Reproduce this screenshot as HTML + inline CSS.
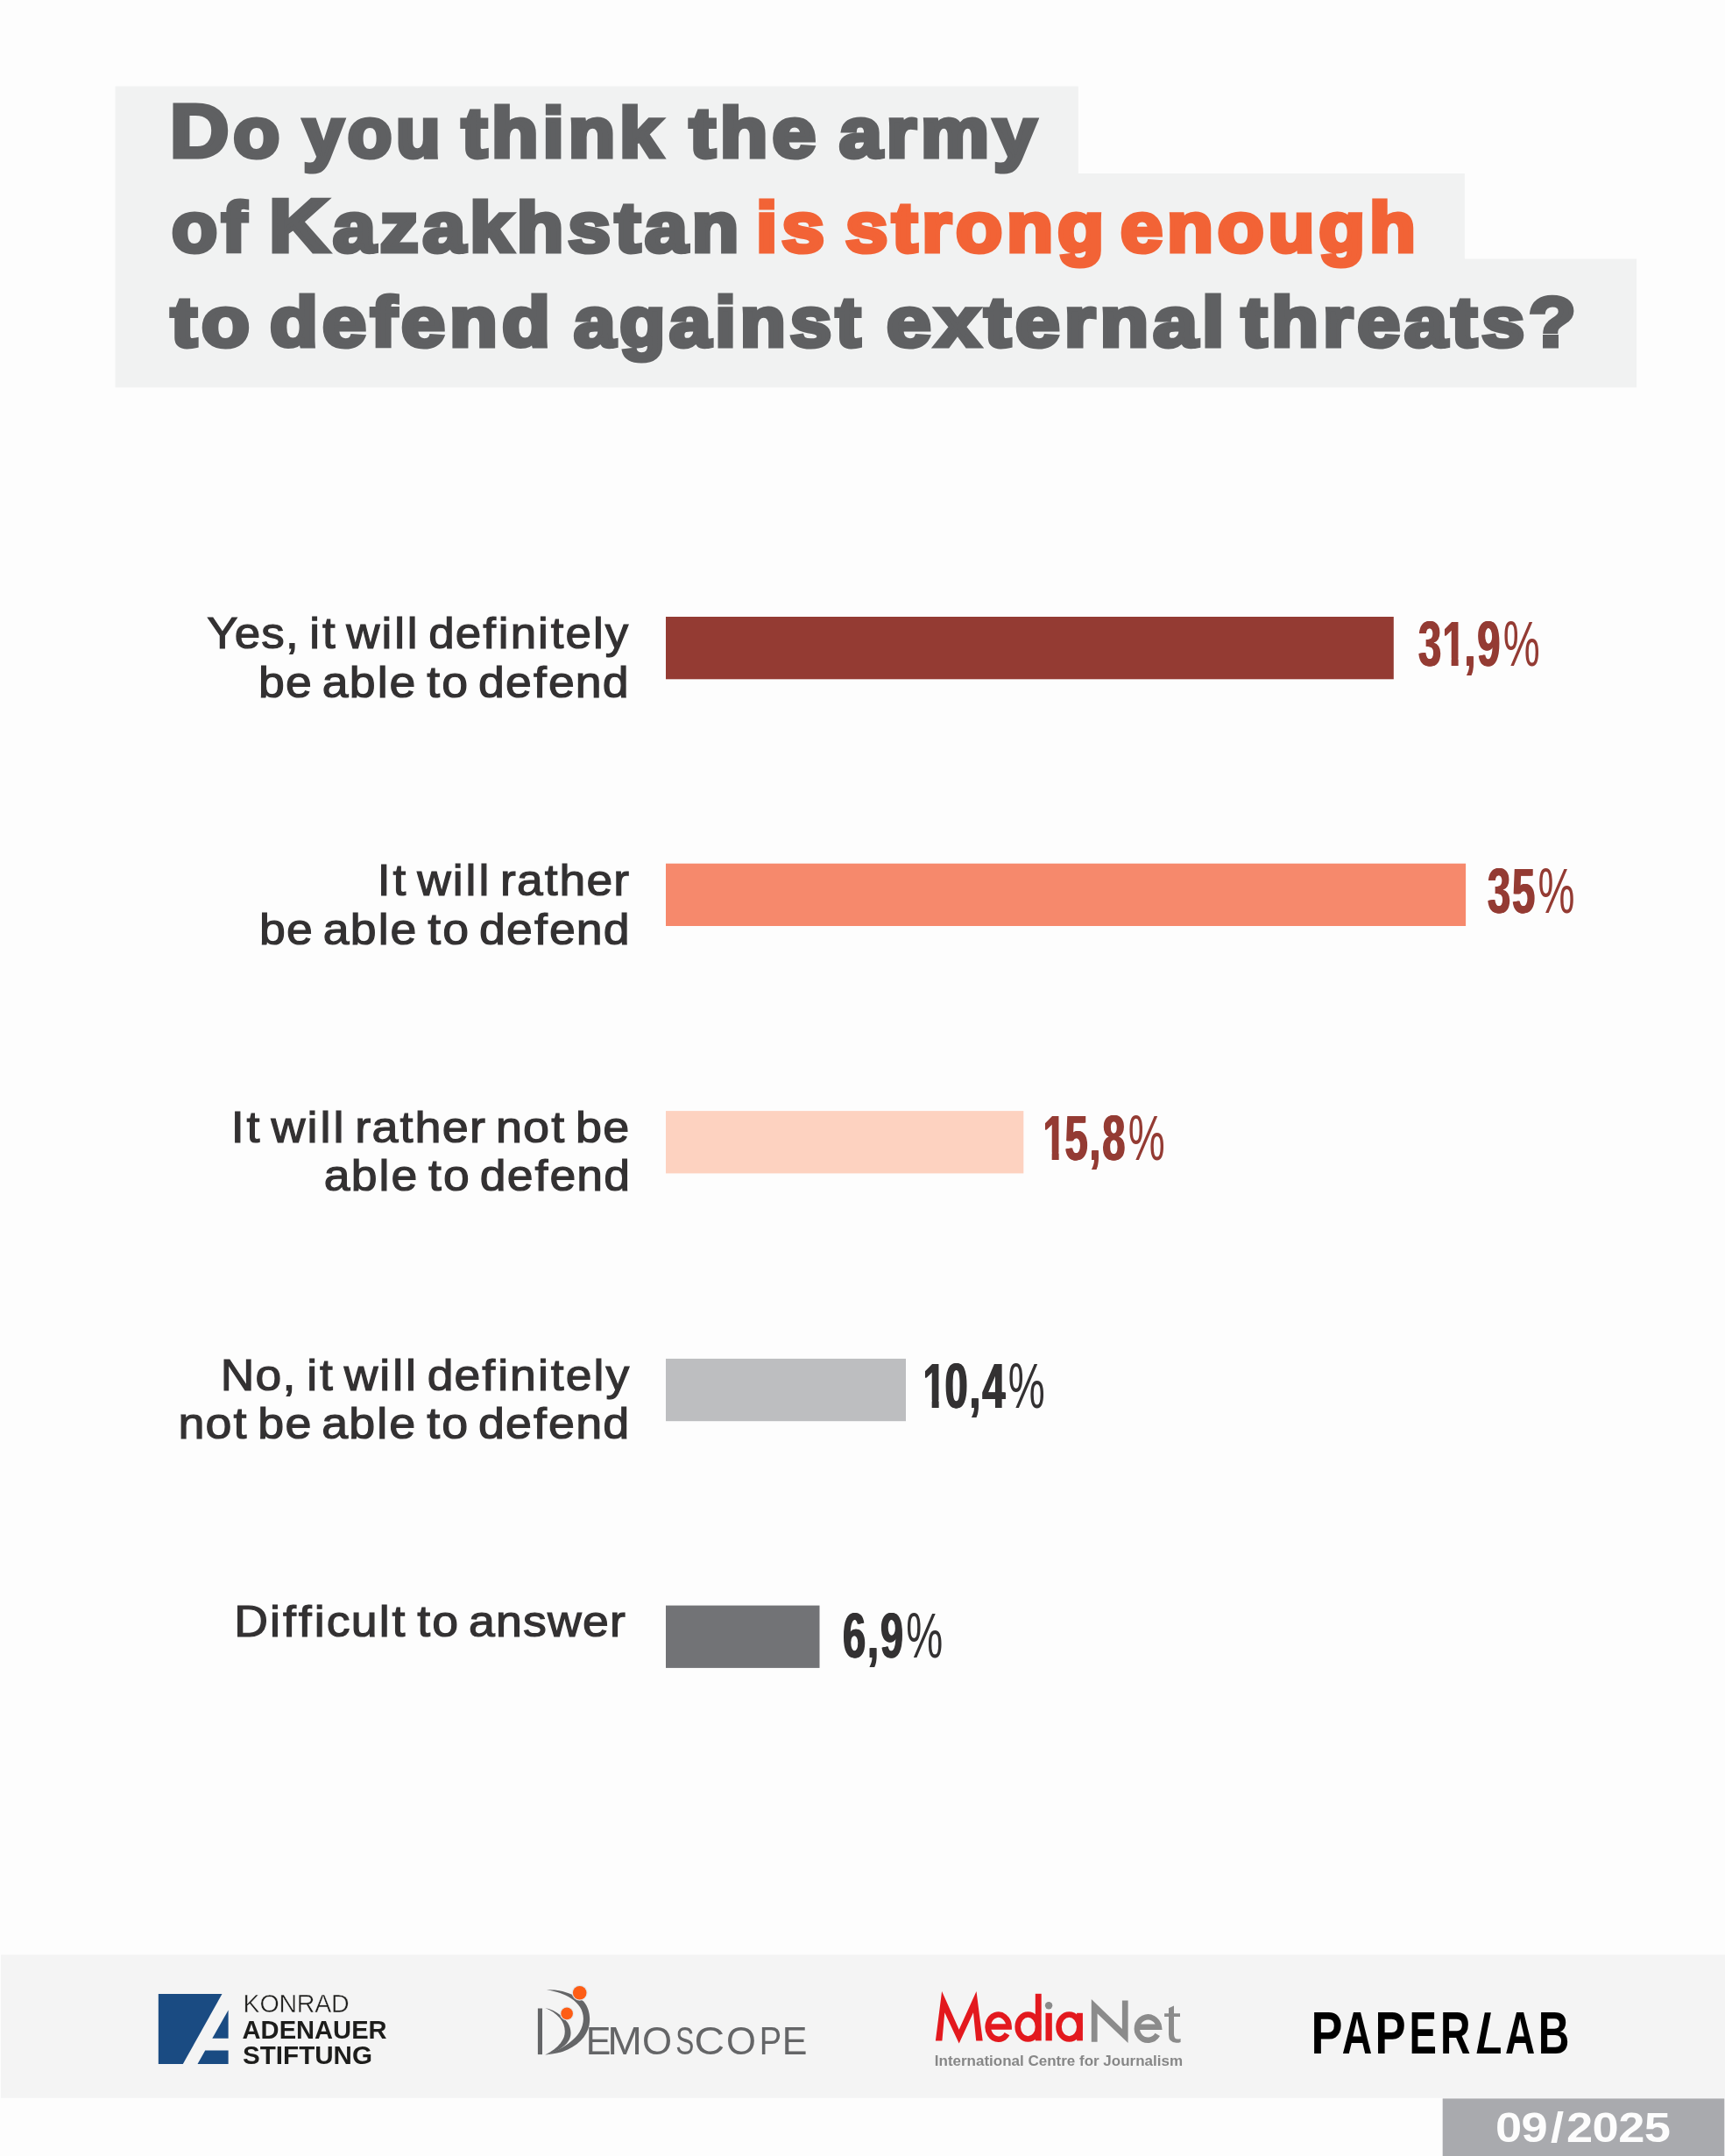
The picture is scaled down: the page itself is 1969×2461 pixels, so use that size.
<!DOCTYPE html>
<html lang="en">
<head>
<meta charset="utf-8">
<title>Survey chart</title>
<style>
html,body{margin:0;padding:0;}
body{width:1969px;height:2461px;background:#fdfdfd;position:relative;overflow:hidden;font-family:"Liberation Sans",sans-serif;}
.abs{position:absolute;}
.t{position:absolute;white-space:nowrap;font-weight:bold;font-size:79.5px;line-height:100px;color:#5f6062;
   -webkit-text-stroke:5px #5f6062;transform-origin:0 0;transform:scaleX(1.03);letter-spacing:4.5px;word-spacing:-10px;}
.t .c{font-size:85.6px;line-height:0;}
.t.o{color:#f26336;-webkit-text-stroke:5px #f26336;}
.lab{position:absolute;right:1251px;white-space:nowrap;text-align:right;font-size:50.6px;line-height:56px;color:#333132;
   -webkit-text-stroke:1.2px #333132;letter-spacing:1.1px;word-spacing:-5px;transform-origin:100% 0;transform:scaleX(1.05);}
.lab s{text-decoration:none;margin:0 0.85px;}
.val{position:absolute;white-space:nowrap;font-weight:bold;font-size:72.4px;line-height:80px;color:#943b33;
   letter-spacing:2.8px;text-shadow:1.1px 0 0 currentColor,-1.1px 0 0 currentColor;transform-origin:0 0;transform:scaleX(0.65);}
.val i{font-style:normal;font-weight:normal;text-shadow:none;letter-spacing:0;margin-left:2.2px;font-size:72.6px;}
.val.dk{color:#333132;}
.val u{text-decoration:none;display:inline-block;margin:0 -4.5px 0 -1px;line-height:80px;clip-path:polygon(-3px 0,60px 0,60px 56.3px,27.6px 56.3px,27.6px 80px,16.2px 80px,16.2px 56.3px,-3px 56.3px);}
.datet{position:absolute;left:1707px;top:2400.6px;white-space:nowrap;font-weight:bold;font-size:47.8px;line-height:56px;color:#fdfdfd;letter-spacing:-0.5px;transform-origin:0 0;transform:scaleX(1.135);}
.datet b{margin:0 3px 0 3.4px;}
</style>
</head>
<body>
<!-- background shapes: title box, bars, footer band, date box -->
<svg class="abs" style="left:0;top:0;" width="1969" height="2461" viewBox="0 0 1969 2461">
<path fill="#f1f2f2" d="M131.6,98.6 H1230.8 V198 H1671.9 V295.5 H1868.1 V442.3 H131.6 Z"/>
<rect x="760" y="704" width="830.8" height="71.3" fill="#943b33"/>
<rect x="760" y="985.7" width="913.1" height="71.3" fill="#f6896c"/>
<rect x="760" y="1268.1" width="408.3" height="71.3" fill="#fdd2c0"/>
<rect x="760" y="1550.9" width="274" height="71.3" fill="#bdbec0"/>
<rect x="760" y="1832.6" width="175.5" height="71.3" fill="#727376"/>
<rect x="1" y="2231.2" width="1968" height="163.6" fill="#f4f4f4"/>
<rect x="1646.7" y="2395.4" width="321.6" height="65.6" fill="#a9aaae"/>
</svg>
<!-- title text -->
<!--TITLE-->
<div class="t" style="left:194.0px;top:102px;transform:scaleX(1.0899);"><span class="c">D</span>o </div>
<div class="t" style="left:345.5px;top:102px;transform:scaleX(1.0422);">you </div>
<div class="t" style="left:526.5px;top:102px;transform:scaleX(1.1003);">think </div>
<div class="t" style="left:787.0px;top:102px;transform:scaleX(1.1234);">the </div>
<div class="t" style="left:958.0px;top:102px;transform:scaleX(1.1038);">army </div>
<div class="t" style="left:195.5px;top:209.9px;transform:scaleX(1.0719);">of </div>
<div class="t" style="left:306.5px;top:209.9px;transform:scaleX(1.1016);"><span class="c">K</span>azakhstan </div>
<div class="t o" style="left:863.0px;top:209.9px;transform:scaleX(1.1030);">is </div>
<div class="t o" style="left:964.5px;top:209.9px;transform:scaleX(1.0934);">strong </div>
<div class="t o" style="left:1279.0px;top:209.9px;transform:scaleX(1.0886);">enough </div>
<div class="t" style="left:195.0px;top:317.7px;transform:scaleX(1.1300);">to </div>
<div class="t" style="left:307.5px;top:317.7px;transform:scaleX(1.1303);">defend </div>
<div class="t" style="left:655.0px;top:317.7px;transform:scaleX(1.0720);">against </div>
<div class="t" style="left:1011.5px;top:317.7px;transform:scaleX(1.1451);">external </div>
<div class="t" style="left:1417.0px;top:317.7px;transform:scaleX(1.1059);">threats? </div>
<!--/TITLE-->

<!-- rows -->
<div class="lab" style="top:694.9px;right:1251.2px;transform:scaleX(1.045);">Yes, <s>i</s><s>t</s> w<s>i</s><s>l</s><s>l</s> de<s>f</s><s>i</s>n<s>i</s><s>t</s>e<s>l</s>y</div>
<div class="lab" style="top:750.5px;right:1250.6px;transform:scaleX(1.060);">be ab<s>l</s>e <s>t</s>o de<s>f</s>end</div>
<div class="val" style="left:1619px;top:695.4px;">3<u>1</u>,9<i>%</i></div>

<div class="lab" style="top:976.9px;right:1250.0px;transform:scaleX(1.055);"><s>I</s><s>t</s> w<s>i</s><s>l</s><s>l</s> ra<s>t</s>her</div>
<div class="lab" style="top:1032.5px;right:1249.0px;transform:scaleX(1.060);">be ab<s>l</s>e <s>t</s>o de<s>f</s>end</div>
<div class="val" style="left:1697.6px;top:977.4px;">35<i>%</i></div>

<div class="lab" style="top:1258.8px;right:1249.6px;transform:scaleX(1.066);"><s>I</s><s>t</s> w<s>i</s><s>l</s><s>l</s> ra<s>t</s>her no<s>t</s> be</div>
<div class="lab" style="top:1314.4px;right:1249.0px;transform:scaleX(1.058);">ab<s>l</s>e <s>t</s>o de<s>f</s>end</div>
<div class="val" style="left:1191px;top:1259.4px;"><u>1</u>5,8<i>%</i></div>

<div class="lab" style="top:1541.6px;right:1249.2px;transform:scaleX(1.057);">No, <s>i</s><s>t</s> w<s>i</s><s>l</s><s>l</s> de<s>f</s><s>i</s>n<s>i</s><s>t</s>e<s>l</s>y</div>
<div class="lab" style="top:1597.2px;right:1249.4px;transform:scaleX(1.063);">no<s>t</s> be ab<s>l</s>e <s>t</s>o de<s>f</s>end</div>
<div class="val dk" style="left:1054.2px;top:1542.2px;"><u>1</u>0,4<i>%</i></div>

<div class="lab" style="top:1823.2px;right:1254.4px;transform:scaleX(1.061);">D<s>i</s><s>f</s><s>f</s><s>i</s>cu<s>l</s><s>t</s> <s>t</s>o answer</div>
<div class="val dk" style="left:962px;top:1827.2px;">6,9<i>%</i></div>

<!-- footer -->
<!--FSVG-->
<svg class="abs" style="left:0;top:2230px;will-change:transform;" width="1969" height="165" viewBox="0 2230 1969 165" font-family="'Liberation Sans',sans-serif">
<g fill="#1a4b82">
<polygon points="180.8,2276.1 253.5,2276.1 208.8,2356.1 180.8,2356.1"/>
<polygon points="260.6,2294.4 260.6,2326.8 242.3,2326.8"/>
<polygon points="234.2,2340.4 260.6,2340.4 260.6,2356.1 225.5,2356.1"/>
</g>
<text x="277.6" y="2296.8" font-size="28.6" fill="#1d1d1b" textLength="121" lengthAdjust="spacing" stroke="#f4f4f4" stroke-width="0.45">KONRAD</text>
<text x="276.6" y="2326.8" font-size="28.6" font-weight="bold" fill="#1d1d1b" textLength="165" lengthAdjust="spacingAndGlyphs">ADENAUER</text>
<text x="277" y="2355.7" font-size="28.6" font-weight="bold" fill="#1d1d1b" textLength="148" lengthAdjust="spacingAndGlyphs">STIFTUNG</text>
<g fill="#646567">
<rect x="613.9" y="2292.5" width="5.1" height="52.6"/>
<path d="M622.3,2292.1 C632,2294 640,2299 648.1,2308.9 C652.5,2316 652.5,2324 649,2329.5 C644,2337.5 634,2342.5 622.3,2345.4 C633,2340.5 640.5,2333.5 643.8,2325 C646,2318 644.5,2310 639,2303.5 C634.5,2298.5 629,2294.8 622.3,2292.1 Z"/>
<path d="M623.8,2271.2 C640,2270.5 656,2276 666.1,2284.6 C672.5,2292 674.2,2302 672.6,2311.5 C670,2325 659,2336 642,2342 C636,2344 629,2345 622.3,2345.4 C640,2340 654,2331 661.5,2319.5 C667,2310 667.5,2299.5 662,2291 C655,2280.5 641,2274 623.8,2271.2 Z"/>
</g>
<circle cx="661.7" cy="2274.7" r="9.0" fill="#e2e6ea"/><circle cx="661.7" cy="2274.7" r="7.8" fill="#fd5d15"/>
<circle cx="647.1" cy="2298.4" r="7.9" fill="#e2e6ea"/><circle cx="647.1" cy="2298.4" r="6.8" fill="#fd5d15"/>
<text transform="translate(668.67,2345.10) scale(0.9553,1)" font-size="45.00" font-weight="normal" fill="#646567">E</text>
<text transform="translate(693.19,2345.10) scale(1.0597,1)" font-size="45.00" font-weight="normal" fill="#646567">M</text>
<text transform="translate(732.93,2345.10) scale(0.9734,1)" font-size="45.00" font-weight="normal" fill="#646567">O</text>
<text transform="translate(771.16,2345.10) scale(0.7025,1)" font-size="45.00" font-weight="normal" fill="#646567">S</text>
<text transform="translate(792.46,2345.10) scale(1.0667,1)" font-size="45.00" font-weight="normal" fill="#646567">C</text>
<text transform="translate(828.93,2345.10) scale(0.9701,1)" font-size="45.00" font-weight="normal" fill="#646567">O</text>
<text transform="translate(866.87,2345.10) scale(0.8476,1)" font-size="45.00" font-weight="normal" fill="#646567">P</text>
<text transform="translate(892.87,2345.10) scale(0.9553,1)" font-size="45.00" font-weight="normal" fill="#646567">E</text>
<polygon fill="#e3191e" points="1067.9,2329.4 1075.1,2273 1094.7,2316.7 1114.5,2273 1121.7,2329.4 1114.2,2329.4 1111,2297.2 1094.7,2332.5 1078.3,2297.2 1075.4,2329.4"/>
<g fill="none" stroke="#e3191e" stroke-width="6.6">
<path d="M1127.7,2313.5 H1151.6 A11.95,14.05 0 1 0 1149.5,2321.6"/>
<ellipse cx="1173.4" cy="2313.5" rx="11.7" ry="14.05"/>
<ellipse cx="1220.4" cy="2313.5" rx="11.9" ry="14.05"/>
</g>
<g fill="#e3191e">
<rect x="1181.8" y="2275.8" width="6.9" height="53.6"/>
<rect x="1193.5" y="2297.8" width="7.3" height="31.6"/>
<rect x="1229.1" y="2297.8" width="6.8" height="31.6"/>
</g>
<circle cx="1197.1" cy="2289.3" r="4.2" fill="#8b8b8b"/>
<polygon fill="#8b8b8b" points="1245.8,2330.7 1245.8,2281.9 1280.9,2316.1 1280.9,2283.6 1287.6,2283.6 1287.6,2331.9 1252.6,2298.5 1252.6,2330.7"/>
<path fill="none" stroke="#8b8b8b" stroke-width="6.4" d="M1297.6,2313.7 H1322.9 A12.6,13.2 0 1 0 1321.2,2322.4"/>
<path fill="#8b8b8b" d="M1334,2292.2 L1340,2289.6 V2298.3 H1347 V2302 H1340 V2322 Q1340,2327.6 1344.3,2327.6 Q1346.2,2327.6 1347.6,2326.9 V2330.9 Q1345.6,2331.8 1342.6,2331.8 Q1334,2331.8 1334,2322.6 V2302 H1329.1 V2298.3 H1334 Z"/>
<text x="1066.8" y="2358.4" font-size="17.3" font-weight="bold" fill="#878787" textLength="283.2" lengthAdjust="spacingAndGlyphs">International Centre for Journalism</text>
<text transform="translate(1496.39,2344.00) scale(0.7926,1)" font-size="68.00" font-weight="bold" fill="#000">P</text>
<text transform="translate(1531.71,2344.00) scale(0.7036,1)" font-size="68.00" font-weight="bold" fill="#000">A</text>
<text transform="translate(1569.58,2344.00) scale(0.7744,1)" font-size="68.00" font-weight="bold" fill="#000">P</text>
<text transform="translate(1608.45,2344.00) scale(0.6920,1)" font-size="68.00" font-weight="bold" fill="#000">E</text>
<text transform="translate(1643.91,2344.00) scale(0.7020,1)" font-size="68.00" font-weight="bold" fill="#000">R</text>
<text transform="translate(1718.02,2344.00) scale(0.6970,1)" font-size="68.00" font-weight="bold" fill="#000">A</text>
<text transform="translate(1755.80,2344.00) scale(0.7258,1)" font-size="68.00" font-weight="bold" fill="#000">B</text>
<polygon fill="#000" points="1694.8,2297.2 1701.9,2297.2 1693.7,2337.2 1712.9,2337.2 1712.9,2344 1685.5,2344"/>
</svg>
<!--/FSVG-->
<div class="datet">09<b>/</b>2025</div>
</body>
</html>
